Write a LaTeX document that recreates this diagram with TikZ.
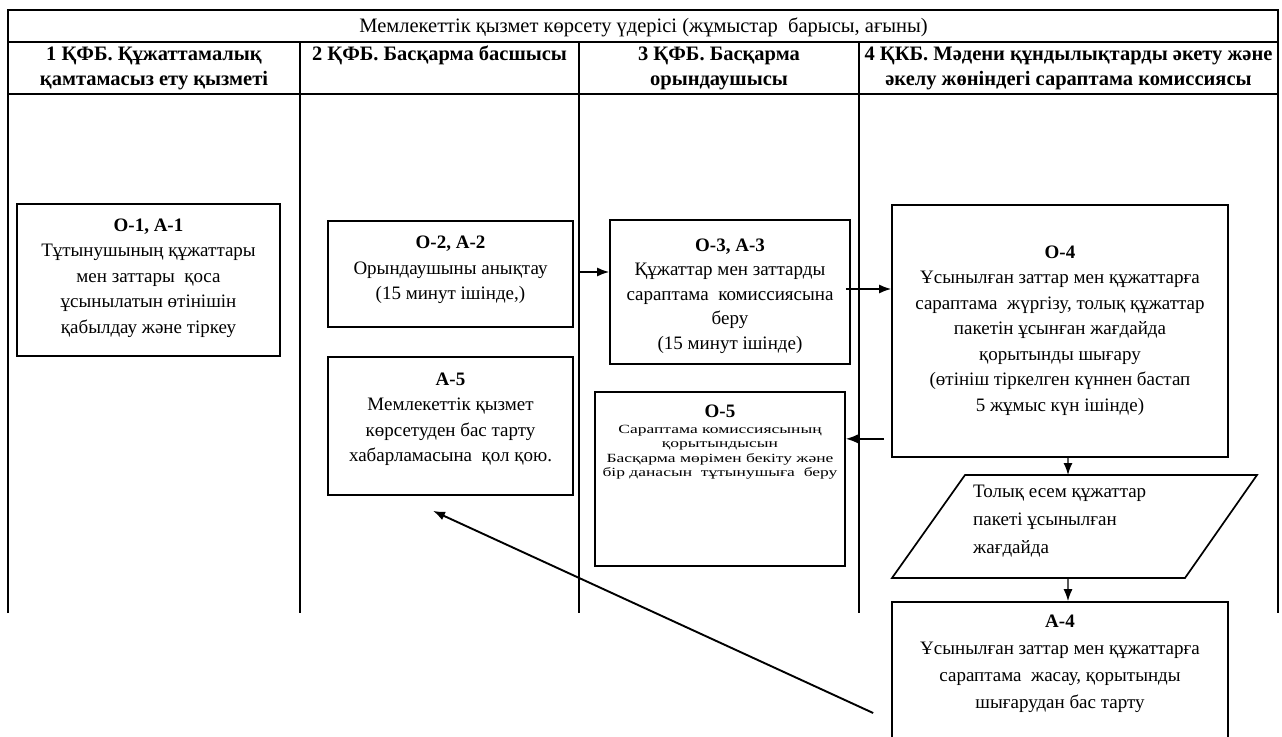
\documentclass[tikz,border=0pt]{standalone}
\usepackage{fontspec}
\setmainfont{Liberation Serif}
\newfontfamily\widefont[FakeStretch=1.4]{Liberation Serif}
\usetikzlibrary{arrows.meta,calc}
\begin{document}
\begin{tikzpicture}[x=1bp,y=-1bp,
  tline/.style={line width=1.4bp},
  box/.style={draw, line width=1.7bp, inner sep=0pt},
  txt/.style={align=center, inner sep=0pt, font=\fontsize{19bp}{25.5bp}\selectfont},
  hdr/.style={align=center, inner sep=0pt, font=\fontsize{20.5bp}{25bp}\selectfont\bfseries},
  small/.style={align=center, inner sep=0pt, font=\widefont\fontsize{12.5bp}{14.5bp}\selectfont},
  arr/.style={-{Latex[length=12bp,width=9bp]}, line width=1.4bp},
]
\useasboundingbox (0,0) rectangle (1282,737);
\clip (0,0) rectangle (1282,737);

% table
\draw[tline] (8,613) -- (8,10) -- (1278,10) -- (1278,613);
\draw[tline] (8,42) -- (1278,42);
\draw[tline] (8,94) -- (1278,94);
\foreach \x in {300,579,859} \draw[tline] (\x,42) -- (\x,613);

\node[inner sep=0pt, font=\fontsize{20.5bp}{22bp}\selectfont] (title) at (643.5,27)
  {Мемлекеттік қызмет көрсету үдерісі (жұмыстар~ барысы, ағыны)};
\node[hdr] (h1) at (154,68) {1 ҚФБ. Құжаттамалық\\қамтамасыз ету қызметі};
\node[hdr] (h2) at (439.5,55) {2 ҚФБ. Басқарма басшысы};
\node[hdr] (h3) at (719,68) {3 ҚФБ. Басқарма\\орындаушысы};
\node[hdr] (h4) at (1068.5,68) {4 ҚКБ. Мәдени құндылықтарды әкету және\\әкелу жөніндегі сараптама комиссиясы};

% boxes
\node[box, minimum width=263bp, minimum height=152bp] (o1) at (148.5,280) {};
\node[box, minimum width=245bp, minimum height=106bp] (o2) at (450.5,274) {};
\node[box, minimum width=245bp, minimum height=138bp] (a5) at (450.5,426) {};
\node[box, minimum width=240bp, minimum height=144bp] (o3) at (730,292) {};
\node[box, minimum width=250bp, minimum height=174bp] (o5) at (720,479) {};
\node[box, minimum width=336bp, minimum height=252bp] (o4) at (1060,331) {};
\node[box, minimum width=336bp, minimum height=198bp] (a4) at (1060,701) {};

% parallelogram
\coordinate (p1) at (965,475);
\coordinate (p2) at (1257,475);
\coordinate (p3) at (1185,578);
\coordinate (p4) at (892,578);
\draw[line width=1.7bp, line join=miter] (p1) -- (p2) -- (p3) -- (p4) -- cycle;
\coordinate (partop) at (1068,475);
\coordinate (parbot) at (1068,578);

% texts
\node[txt] (o1t) at (148.5,278) {\textbf{О-1, А-1}\\Тұтынушының құжаттары\\мен заттары~ қоса\\ұсынылатын өтінішін\\қабылдау және тіркеу};
\node[txt] (o2t) at (450.5,270) {\textbf{О-2, А-2}\\Орындаушыны анықтау\hspace*{22bp}\\(15 минут ішінде,)};
\node[txt] (a5t) at (450.5,419) {\textbf{А-5}\\Мемлекеттік қызмет\\көрсетуден бас тарту\\хабарламасына~ қол қою.};
\node[txt, font=\fontsize{19bp}{24.5bp}\selectfont] (o3t) at (730,296) {\textbf{О-3, А-3}\\Құжаттар мен заттарды\\сараптама~ комиссиясына\\беру\\(15 минут ішінде)};
\node[txt, font=\fontsize{19bp}{19bp}\selectfont] (o5h) at (720,411) {\textbf{О-5}};
\node[small] (o5t) at (720,452) {Сараптама комиссиясының\\қорытындысын\\Басқарма мөрімен бекіту және\\бір данасын~ тұтынушыға~ беру};
\node[txt] (o4t) at (1060,330.5) {\textbf{О-4}\\Ұсынылған заттар мен құжаттарға\\сараптама~ жүргізу, толық құжаттар\\пакетін ұсынған жағдайда\\қорытынды шығару\\(өтініш тіркелген күннен бастап\\5 жұмыс күн ішінде)};
\node[txt, align=left, anchor=west, font=\fontsize{19bp}{28bp}\selectfont] (part) at (973,521) {Толық есем құжаттар\\пакеті ұсынылған\\жағдайда};
\node[txt, font=\fontsize{19bp}{27bp}\selectfont] (a4t) at (1060,664) {\textbf{А-4}\\Ұсынылған заттар мен құжаттарға\\сараптама~ жасау, қорытынды\\шығарудан бас тарту};

% connectors
\coordinate (s23) at ([xshift=6bp,yshift=2bp]o2.east);
\draw[arr] (s23) -- (s23 -| o3.west);
\coordinate (s34) at ([xshift=-5bp,yshift=3bp]o3.east);
\draw[arr] (s34) -- (s34 -| o4.west);
\coordinate (s45) at ([xshift=-7bp,yshift=19bp]o4.south west);
\draw[arr] (s45) -- (s45 -| o5.east);
\draw[arr] ([xshift=8bp]o4.south) -- (partop);
\draw[arr] (parbot) -- ([xshift=8bp]a4.north);
\coordinate (lstart) at ([xshift=-18bp,yshift=-12bp]a4.west);
\coordinate (lend) at ([xshift=-17.5bp,yshift=-15bp]a5.south);
\draw[arr, line width=1.9bp] (lstart) -- (lend);
\end{tikzpicture}
\end{document}
